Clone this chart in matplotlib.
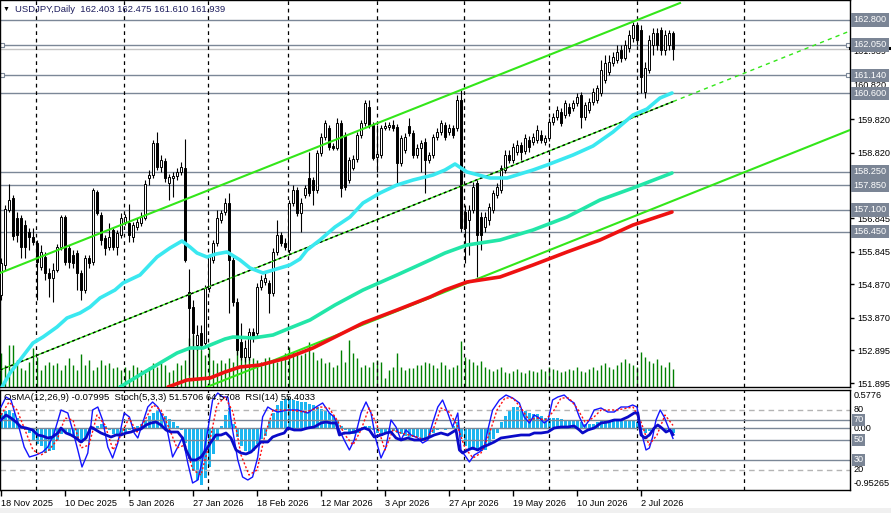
import numpy as np
import matplotlib.pyplot as plt
from matplotlib.transforms import blended_transform_factory

plt.rcParams['font.family'] = ['Liberation Sans', 'DejaVu Sans']

# ---------------- data ----------------
opens = [154.55, 155.45, 157.10, 157.46, 156.86, 156.86, 156.65, 156.44, 156.29, 156.11,
         155.39, 155.69, 155.21, 155.06, 155.30, 155.99, 156.89, 155.96, 155.75, 155.81,
         155.21, 154.70, 155.66, 155.54, 157.64, 156.95, 156.26, 155.99, 156.50, 155.99,
         156.35, 156.74, 156.71, 156.29, 156.59, 156.71, 156.86, 158.06, 158.15, 159.11,
         158.39, 158.57, 157.91, 158.06, 158.12, 158.24, 158.36, 154.64, 154.19, 153.05,
         153.41, 153.11, 154.76, 155.60, 156.11, 156.80, 157.04, 157.31, 155.60, 154.34,
         153.14, 152.69, 152.69, 153.44, 153.41, 154.79, 154.94, 154.91, 154.61, 155.84,
         156.35, 156.11, 155.90, 157.31, 157.70, 157.01, 157.55, 158.06, 157.99, 157.70,
         158.81, 159.29, 159.56, 159.02, 158.96, 159.71, 159.35, 158.00, 158.36, 158.63,
         159.35, 159.71, 160.19, 159.65, 158.69, 158.75, 159.56, 159.59, 159.65, 159.59,
         158.51, 158.90, 159.62, 159.41, 158.75, 158.96, 159.14, 158.60, 158.75, 159.29,
         159.44, 159.65, 159.44, 159.56, 159.56, 160.40, 157.04, 156.80, 157.10, 157.91,
         156.89, 156.59, 156.80, 157.10, 157.55, 157.70, 158.30, 158.75, 158.60, 158.84,
         159.05, 158.87, 159.20, 159.14, 159.20, 159.35, 159.14, 159.26, 159.74, 159.89,
         160.04, 159.95, 160.19, 160.16, 160.31, 160.55, 159.89, 160.10, 160.34, 160.40,
         160.61, 161.00, 161.24, 161.51, 161.60, 161.90, 161.66, 161.96, 162.26, 162.65,
         162.50, 160.64, 161.30, 162.05, 162.41, 162.50, 161.90, 162.05, 162.403]
highs = [155.66, 157.25, 157.88, 157.55, 157.04, 156.95, 156.80, 156.56, 156.56, 156.20,
         156.05, 155.84, 155.36, 155.51, 156.08, 156.95, 156.95, 156.05, 155.90, 155.90,
         155.30, 155.75, 155.75, 157.76, 157.70, 157.04, 156.35, 156.71, 156.56, 156.50,
         157.01, 156.98, 157.28, 156.74, 156.86, 157.04, 158.00, 158.30, 159.20, 159.44,
         158.75, 158.66, 158.18, 158.24, 158.36, 158.54, 159.23, 155.33, 154.40, 153.65,
         153.65, 154.85, 155.75, 156.20, 157.10, 157.10, 157.46, 157.61, 155.75, 154.46,
         153.71, 153.20, 153.56, 153.56, 154.91, 155.15, 155.24, 155.00, 155.96, 156.80,
         156.44, 156.26, 157.40, 157.85, 157.79, 157.46, 157.85, 158.84, 158.09, 158.90,
         159.41, 159.80, 159.65, 159.11, 159.86, 159.80, 159.44, 158.69, 158.75, 159.44,
         159.80, 160.40, 160.40, 159.74, 159.65, 159.65, 159.74, 159.74, 159.80, 159.68,
         159.35, 159.41, 159.86, 159.50, 159.08, 159.20, 159.26, 158.84, 159.38, 159.56,
         159.80, 159.74, 159.68, 159.65, 160.55, 160.70, 157.25, 157.25, 157.94, 158.00,
         157.04, 157.04, 157.31, 157.70, 157.91, 158.45, 158.90, 158.90, 159.11, 159.20,
         159.14, 159.38, 159.32, 159.41, 159.65, 159.50, 159.35, 159.86, 160.01, 160.22,
         160.16, 160.40, 160.31, 160.40, 160.61, 160.64, 160.34, 160.46, 160.76, 160.85,
         161.60, 161.75, 161.75, 161.84, 162.05, 162.05, 162.20, 162.50, 162.74, 162.74,
         162.65, 161.54, 162.35, 162.56, 162.56, 162.59, 162.50, 162.50, 162.475]
lows = [154.40, 155.30, 157.04, 156.20, 156.14, 155.66, 155.66, 155.90, 156.05, 154.40,
        155.30, 155.00, 154.49, 154.34, 155.24, 155.90, 155.45, 155.36, 155.36, 154.70,
        154.40, 154.61, 155.36, 155.45, 156.95, 156.05, 155.75, 155.90, 155.90, 155.75,
        156.26, 156.65, 156.14, 156.14, 156.50, 156.62, 156.80, 157.85, 158.06, 158.30,
        158.24, 157.94, 157.40, 157.49, 158.00, 158.15, 155.54, 152.15, 152.06, 152.90,
        152.90, 152.99, 154.64, 155.51, 156.02, 156.71, 156.95, 154.01, 154.22, 152.75,
        152.60, 152.54, 152.60, 153.14, 153.32, 154.70, 154.85, 154.01, 154.52, 155.75,
        156.02, 155.90, 155.81, 157.22, 156.92, 156.44, 157.46, 157.52, 157.25, 157.60,
        158.72, 159.20, 158.90, 158.90, 158.90, 157.49, 157.70, 157.91, 158.30, 158.54,
        159.26, 159.62, 159.56, 158.60, 158.24, 158.66, 159.50, 159.50, 159.47, 157.91,
        158.42, 158.81, 159.32, 158.66, 158.66, 158.24, 157.61, 158.51, 158.66, 159.20,
        159.35, 159.20, 159.35, 159.26, 159.47, 156.44, 155.51, 155.75, 157.01, 155.09,
        155.90, 156.44, 156.65, 157.01, 157.46, 157.61, 158.21, 158.51, 158.51, 158.75,
        158.60, 158.78, 158.84, 159.05, 159.11, 159.11, 159.05, 159.17, 159.65, 159.80,
        159.62, 159.86, 159.92, 160.07, 160.22, 159.56, 159.80, 160.01, 160.25, 160.31,
        160.52, 160.91, 161.15, 161.42, 161.51, 161.54, 161.60, 161.84, 162.14, 162.05,
        160.61, 160.46, 161.21, 161.75, 161.90, 161.75, 161.75, 161.90, 161.610]
closes = [155.51, 157.13, 157.40, 156.32, 156.35, 155.99, 155.99, 156.29, 156.14, 155.54,
          155.84, 155.21, 155.06, 155.30, 155.99, 156.89, 155.54, 155.54, 155.51, 155.21,
          154.70, 155.66, 155.51, 157.70, 157.01, 156.20, 155.96, 156.29, 155.99, 156.41,
          156.86, 156.89, 156.35, 156.65, 156.74, 156.89, 157.88, 158.15, 159.11, 158.39,
          158.60, 158.06, 158.09, 158.12, 158.24, 158.39, 155.60, 154.16, 153.41, 153.35,
          153.05, 154.76, 155.69, 156.11, 156.86, 157.01, 157.31, 155.60, 154.34, 152.90,
          152.69, 152.96, 153.44, 153.26, 154.79, 155.00, 155.06, 154.61, 155.84, 156.35,
          156.11, 155.99, 157.31, 157.70, 157.01, 157.31, 157.76, 157.61, 157.70, 158.81,
          159.29, 159.71, 158.99, 158.96, 159.71, 157.76, 157.79, 158.60, 158.63, 159.35,
          159.71, 160.31, 159.65, 158.66, 158.78, 159.56, 159.62, 159.65, 159.56, 158.51,
          159.26, 159.29, 159.41, 158.75, 158.96, 159.11, 158.60, 158.75, 159.29, 159.44,
          159.71, 159.29, 159.56, 159.35, 160.40, 156.56, 156.56, 157.10, 157.79, 156.35,
          156.35, 156.89, 157.19, 157.61, 157.79, 158.36, 158.75, 158.60, 158.99, 159.05,
          158.84, 159.26, 158.99, 159.29, 159.50, 159.20, 159.26, 159.74, 159.89, 160.10,
          159.71, 160.31, 160.01, 160.31, 160.49, 159.89, 160.25, 160.34, 160.64, 160.76,
          161.30, 161.51, 161.54, 161.69, 161.84, 161.66, 162.05, 162.35, 162.65, 162.20,
          161.09, 161.36, 162.20, 162.41, 162.05, 161.90, 162.35, 162.41, 161.939]
volumes = [34, 22, 42, 42, 27, 19, 17, 25, 39, 30,
           17, 22, 25, 22, 24, 17, 22, 29, 22, 17,
           33, 22, 27, 17, 20, 27, 22, 24, 19, 20,
           17, 20, 17, 22, 20, 17, 14, 20, 24, 20,
           24, 22, 15, 17, 24, 22, 27, 49, 52, 45,
           37, 32, 39, 27, 24, 27, 24, 29, 25, 40,
           42, 30, 34, 29, 27, 25, 29, 30, 27, 25,
           30, 34, 40, 35, 35, 32, 34, 45, 35, 27,
           29, 24, 25, 20, 22, 37, 25, 47, 34, 29,
           20, 22, 20, 25, 27, 25, 9, 17, 20, 34,
           20, 17, 19, 19, 22, 22, 25, 24, 22, 19,
           25, 22, 18, 20, 22, 46, 30, 28, 25, 22,
           26, 20, 18, 16, 18, 20, 15, 14, 16, 18,
           15, 14, 17, 16, 15, 18, 16, 20, 18, 17,
           15, 16, 18, 17, 20, 16, 15, 18, 20, 17,
           22, 24, 20, 18, 22, 25, 28, 24, 22, 20,
           35, 30, 26, 24, 28, 22, 20, 25, 18]
osma = [0.23, 0.26, 0.27, 0.23, 0.15, 0.03, -0.03, -0.08, -0.21, -0.26,
        -0.28, -0.39, -0.36, -0.34, -0.21, -0.10, -0.08, -0.10, -0.15, -0.21,
        -0.23, -0.18, -0.10, -0.03, 0.03, 0.05, 0.03, -0.03, -0.10, -0.13,
        -0.10, -0.08, -0.03, 0.01, 0.03, 0.05, 0.10, 0.18, 0.23, 0.26,
        0.23, 0.18, 0.13, 0.08, 0.03, -0.03, -0.23, -0.49, -0.67, -0.80,
        -0.88, -0.78, -0.60, -0.40, -0.20, 0.02, 0.20, 0.30, 0.05, -0.15,
        -0.28, -0.36, -0.39, -0.36, -0.26, -0.18, -0.13, 0.10, 0.23, 0.34,
        0.41, 0.44, 0.44, 0.43, 0.41, 0.39, 0.39, 0.36, 0.34, 0.31,
        0.28, 0.26, 0.23, 0.18, 0.10, 0.03, -0.03, -0.08, -0.10, -0.08,
        -0.03, 0.03, 0.03, -0.03, -0.08, -0.13, -0.10, -0.08, -0.05, -0.08,
        -0.10, -0.13, -0.15, -0.14, -0.15, -0.17, -0.18, -0.15, -0.08, -0.03,
        -0.01, -0.03, -0.02, 0.03, 0.08, -0.15, -0.28, -0.34, -0.34, -0.36,
        -0.36, -0.34, -0.26, -0.18, -0.08, 0.08, 0.18, 0.26, 0.31, 0.31,
        0.28, 0.26, 0.23, 0.21, 0.21, 0.18, 0.15, 0.14, 0.14, 0.14,
        0.13, 0.12, 0.10, 0.10, 0.10, 0.08, 0.05, 0.05, 0.05, 0.08,
        0.10, 0.10, 0.12, 0.13, 0.13, 0.12, 0.10, 0.10, 0.10, 0.09,
        -0.03, -0.08, -0.05, -0.03, 0.00, -0.02, -0.03, -0.05, -0.07995]

# moving averages (bar, price)
ma_fast_bar = [0.25, 2.25, 4.75, 8, 10.5, 14, 16.5, 19.75, 22.25, 24.75, 28.5, 30.5, 34.75, 39,
               42.25, 45.25, 47.25, 49, 51.5, 53.75, 56.5, 59.75, 62.25, 65.5, 69.75, 72.25,
               74.75, 76.5, 79.75, 83.5, 87.25, 90.5, 94.75, 99, 103, 108, 111, 113.5, 116.5,
               122.25, 126.5, 133, 136.5, 143, 148, 153, 158, 161.5, 164.75, 167.75]
ma_fast = [151.79, 152.21, 152.60, 153.11, 153.29, 153.59, 153.86, 154.01, 154.19, 154.46,
           154.70, 154.91, 155.15, 155.69, 155.96, 156.17, 155.99, 155.81, 155.69, 155.78,
           155.84, 155.60, 155.36, 155.21, 155.36, 155.45, 155.63, 155.90, 156.20, 156.59,
           156.89, 157.31, 157.61, 157.85, 158.00, 158.15, 158.30, 158.48, 158.24, 158.06,
           158.06, 158.30, 158.45, 158.75, 159.02, 159.44, 159.95, 160.13, 160.46, 160.61]
ma_mid_bar = [29.75, 35.5, 39.75, 44, 47.25, 50.5, 56, 58, 63, 68, 72.25, 77.25, 83.5, 90.5,
              99, 107.25, 111, 116.5, 124.75, 133, 141.5, 149.75, 158, 167.75]
ma_mid = [151.79, 152.21, 152.51, 152.81, 152.96, 152.96, 153.23, 153.29, 153.26, 153.35,
          153.56, 153.80, 154.25, 154.70, 155.15, 155.60, 155.81, 156.05, 156.20, 156.50,
          156.89, 157.40, 157.76, 158.21]
ma_slow_bar = [41.75, 46.5, 52.25, 56, 59.75, 64.75, 71.5, 78, 83.5, 90.5, 99, 107.25, 111,
               116.5, 124.75, 133, 141.5, 149.75, 158, 167.75]
ma_slow = [151.79, 152.00, 152.06, 152.24, 152.39, 152.45, 152.66, 152.96, 153.29, 153.71,
           154.10, 154.49, 154.70, 154.94, 155.09, 155.45, 155.84, 156.20, 156.65, 157.04]

# trend lines (bar, price) anchors
upper_channel = ([-0.25, 169.75], [155.21, 163.31])
lower_channel = ([51.5, 212.25], [151.79, 159.50])
mid_trend = ([-0.25, 212.25], [152.30, 162.47])

levels = [162.80, 162.05, 161.14, 160.60, 158.25, 157.85, 157.10, 156.45]
marked_levels = [162.05, 161.14]
bid = 161.939
axis_ticks = [159.82, 158.82, 156.845, 155.845, 154.87, 153.87, 152.895, 151.895]

stoch_bar = [0, 1.25, 2.5, 4.2, 5.8, 7.1, 8.75, 10.4, 11.7, 13.3, 15, 16.7, 17.9, 19.2, 20.25,
             21.7, 22.9, 24.2, 25.4, 26.7, 27.9, 29.2, 30.8, 32.1, 33.3, 34.2, 35.4, 36.7, 37.9,
             39.2, 40.4, 41.7, 42.9, 44.2, 45.4, 46.7, 47.9, 49.2, 50.4, 51.7, 52.9, 54.2, 55.4,
             56.7, 57.9, 59.2, 60.4, 61.7, 62.9, 64.2, 65.4, 66.7, 67.9, 69.2, 71.7, 74.2, 76.7,
             78.75, 80.4, 82.1, 83.3, 84.6, 85.8, 87.1, 88.3, 90, 91.25, 92.5, 93.75, 95, 96.25,
             97.5, 98.75, 100, 101.25, 102.5, 104.2, 105.4, 106.7, 107.9, 109.2, 110.4, 111.7,
             112.9, 114.2, 115, 116.25, 117.1, 118.3, 119.6, 120.8, 121.7, 122.9, 124.6, 126.25,
             127.9, 129.6, 130.8, 132.1, 133.3, 134.6, 135.8, 136.8, 137.9, 139.2, 140.8, 142.1,
             143.3, 144.6, 145.8, 147.1, 148.3, 150, 151.7, 153.3, 155, 156.7, 157.9, 159, 159.6,
             160.4, 161.25, 162.1, 162.9, 163.75, 164.8, 165.8, 166.8, 168]
stoch_main = [83, 93, 90, 67, 43, 33, 35, 38, 43, 57, 80, 77, 60, 40, 23,
              37, 80, 83, 70, 43, 32, 47, 77, 73, 57, 52, 67, 83, 88,
              83, 73, 57, 33, 43, 53, 27, 7, 10, 30, 60, 90, 97, 93,
              93, 60, 30, 13, 10, 13, 33, 73, 83, 80, 78, 80, 80, 77,
              83, 87, 77, 73, 60, 50, 40, 50, 77, 88, 77, 50, 32, 43,
              70, 63, 50, 60, 55, 52, 47, 50, 67, 83, 90, 77,
              63, 77, 40, 33, 28, 35, 38, 42, 60, 80, 90, 95,
              92, 87, 73, 67, 75, 72, 67, 70, 90, 93, 95, 90,
              87, 73, 63, 70, 80, 82, 78, 78, 83, 83, 85, 83, 70,
              53, 40, 42, 53, 70, 80, 73, 63, 51.57]
signal_bar = [0, 2, 4, 6, 8, 10, 12, 14, 16, 18, 20, 22, 24, 26, 28, 30, 32, 34, 36, 38, 40,
              42, 44, 46, 48, 50, 52, 54, 56, 58, 60, 62, 64, 66, 68, 70, 72, 76, 80, 82, 84,
              86, 88, 90, 92, 94, 96, 98, 100, 102, 104, 106, 108, 110, 112, 114, 116, 118,
              120, 122, 124, 126, 128, 130, 132, 134, 136, 138, 140, 142, 144, 146, 148, 150,
              154, 158, 160, 162, 164, 166, 168]
stoch_signal = [75, 88, 80, 60, 40, 35, 40, 50, 72, 70, 42, 45, 75, 65, 40, 55, 72, 58, 70, 85,
                80, 62, 42, 45, 20, 15, 45, 85, 93, 78, 35, 15, 20, 55, 80, 80, 80, 78, 83,
                82, 70, 55, 45, 60, 82, 65, 40, 60, 57, 55, 53, 50, 60, 82, 78, 65, 42, 32,
                37, 55, 80, 92, 92, 82, 70, 72, 70, 78, 92, 92, 82, 68, 72, 80, 80, 83, 68,
                45, 55, 75, 64.57]
rsi_bar = [0, 1.25, 2.5, 3.75, 5, 6.25, 7.9, 9.2, 10.4, 11.7, 12.9, 14.2, 15, 16.25, 17.5,
           18.75, 20, 21.25, 22.5, 23.75, 25, 26.25, 27.5, 28.75, 30, 31.25, 32.5, 33.75, 35,
           36.25, 37.5, 38.75, 40, 41.25, 42.5, 44.2, 45.4, 46.25, 47.5, 48.75, 50, 51.25,
           52.5, 53.75, 55, 56.25, 57.5, 58.75, 60, 61.25, 62.5, 63.75, 65, 66.7, 67.9, 69.2,
           70.8, 71.7, 73.3, 75, 76.7, 78.3, 80, 81.25, 82.5, 83.75, 84.6, 85.8, 87.1, 88.3,
           89.6, 90.8, 92.1, 93.3, 95, 96.25, 97.5, 98.75, 100, 101.7, 103.3, 105, 106.7,
           108.3, 110, 111.7, 113.75, 114.6, 115.4, 116.7, 117.9, 119.2, 120.4, 121.7, 123.3,
           125, 126.7, 128.3, 130, 132.1, 133.3, 135, 136.7, 138.3, 140, 141.7, 143.3, 144.6,
           145.4, 146.7, 148.3, 150, 151.7, 153.3, 155, 156.7, 158.3, 159.2, 160, 161, 162.1,
           163.3, 164.2, 165.2, 166.25, 167.3, 168]
rsi = [70, 75, 72, 68, 63, 62, 60, 55, 54, 52, 53, 57, 62, 57, 55,
       52, 48, 52, 63, 60, 57, 55, 53, 55, 55, 57, 58, 60, 61,
       65, 67, 68, 65, 60, 58, 58, 52, 40, 30, 30, 33, 40,
       48, 55, 55, 57, 52, 40, 37, 36, 38, 43, 48, 48, 53, 55,
       57, 62, 60, 60, 62, 63, 67, 68, 67, 67, 55, 57, 57, 58,
       60, 62, 60, 53, 55, 57, 58, 52, 50, 52, 50, 50, 52,
       55, 57, 55, 60, 40, 37, 40, 42, 40, 43, 45, 48,
       52, 53, 54, 55, 55, 57, 57, 58, 62, 63, 63, 64, 60,
       57, 60, 62, 67, 68, 70, 70, 73, 77, 77, 55, 52, 55,
       62, 65, 62, 58, 60, 55.4033]

date_bars = [0, 16, 32, 48, 64, 80, 96, 112, 128, 144, 160]
date_labels = ['18 Nov 2025', '10 Dec 2025', '5 Jan 2026', '27 Jan 2026', '18 Feb 2026',
               '12 Mar 2026', '3 Apr 2026', '27 Apr 2026', '19 May 2026', '10 Jun 2026',
               '2 Jul 2026']
month_lines = [8.75, 30.75, 51.75, 71.75, 94, 115.75, 137, 159, 185.75]

# ---------------- figure ----------------
W, H = 891, 513
fig = plt.figure(figsize=(W / 100, H / 100), dpi=100)
fig.patch.set_facecolor('white')
fs = 6.6
lvl_col = '#7b8797'
box_col = '#7b8595'
green = '#33e619'

ax = fig.add_axes([0, 1 - 387 / H, 850 / W, 387 / H])
axv = ax.twinx()
ax.set_zorder(2)
ax.patch.set_visible(False)
axv.set_zorder(1)

x = np.arange(len(closes))
o = np.array(opens); c = np.array(closes); hi = np.array(highs); lo = np.array(lows)
up = c >= o

axv.vlines(x, 0, volumes, color='#008000', lw=1)
axv.set_ylim(0, 387)
axv.axis('off')

for lv in levels:
    ax.axhline(lv, color=lvl_col, lw=1, zorder=1)
ax.axhline(bid, color='#c4c4c4', lw=1, zorder=1)
for lv in marked_levels:
    ax.plot([0.25, 211.75], [lv, lv], 's', ms=3, mfc='white', mec=lvl_col, mew=0.8, zorder=2)

for b in month_lines:
    ax.axvline(b, color='black', lw=0.9, ls=(0, (3, 3)), zorder=1)

# trend lines
ax.plot(*upper_channel, color=green, lw=1.5, zorder=5)
ax.plot(*lower_channel, color=green, lw=1.5, zorder=5)
(tx0, tx1), (ty0, ty1) = mid_trend
last = len(closes) - 1
ty_last = ty0 + (ty1 - ty0) * (last - tx0) / (tx1 - tx0)
ax.plot([tx0, last], [ty0, ty_last], color=green, lw=1, zorder=5)
ax.plot([tx0, last], [ty0, ty_last], color='black', lw=1, ls=(0, (2, 2)), zorder=5)
ax.plot([last, tx1], [ty_last, ty1], color=green, lw=1, ls=(0, (3, 3)), zorder=5)

# candles
ax.vlines(x, lo, hi, color='black', lw=0.8, zorder=3)
ax.bar(x[up], c[up] - o[up], bottom=o[up], width=0.7, facecolor='white',
       edgecolor='black', linewidth=0.7, zorder=4)
ax.bar(x[~up], o[~up] - c[~up], bottom=c[~up], width=0.7, facecolor='black',
       edgecolor='black', linewidth=0.7, zorder=4)

# moving averages
ax.plot(ma_fast_bar, ma_fast, color='#3ae8f0', lw=2.6, zorder=6, solid_capstyle='round')
ax.plot(ma_mid_bar, ma_mid, color='#22e6a8', lw=2.6, zorder=6, solid_capstyle='round')
ax.plot(ma_slow_bar, ma_slow, color='#ee1111', lw=2.6, zorder=6, solid_capstyle='round')

ax.set_xlim(-0.25, 212.25)
ax.set_ylim(151.79, 163.40)
ax.set_xticks([])
ax.yaxis.tick_right()
ax.set_yticks(axis_ticks)
ax.set_yticklabels([f'{t:.3f}' for t in axis_ticks])
ax.tick_params(axis='y', length=3, width=1, pad=2, labelsize=fs, colors='black')
for s in ax.spines.values():
    s.set_color('black')
    s.set_linewidth(1)

trans = blended_transform_factory(ax.transAxes, ax.transData)
# partly hidden axis labels, as in the terminal
ax.text(1.004, 161.84, f'{bid:.3f}', transform=trans, va='center', ha='left',
        fontsize=fs, color='black', zorder=9, clip_on=False)
ax.plot([1.0, 1.05], [161.965, 161.965], transform=trans, color='black', lw=2.2,
        clip_on=False, zorder=9)
ax.text(1.004, 160.84, '160.820', transform=trans, va='center', ha='left',
        fontsize=fs, color='black', zorder=9, clip_on=False)
for lv in levels:
    ax.text(1.004, lv, f'{lv:.3f}', transform=trans, va='center', ha='left', fontsize=fs,
            color='white', zorder=10, clip_on=False,
            bbox=dict(boxstyle='square,pad=0.25', fc=box_col, ec='none'))

fig.text(3 / W, 1 - 9 / H, '\u25bc', fontsize=5, color='black', va='center')
fig.text(15 / W, 1 - 9 / H, 'USDJPY,Daily  162.403 162.475 161.610 161.939',
         fontsize=6.8, color='#1e1e5e', va='center')

# ---------------- indicator panel ----------------
axi = fig.add_axes([0, 1 - 489.5 / H, 850 / W, 99.5 / H])
axo = axi.twinx()
axi.set_zorder(2)
axi.patch.set_visible(False)
axo.set_zorder(1)

axo.bar(x, osma, width=0.75, color='#1cb6f0', zorder=2)
axo.set_ylim(-0.95265, 0.5776)
axo.axis('off')

for b in month_lines:
    axi.axvline(b, color='black', lw=0.9, ls=(0, (3, 3)), zorder=1)
for lv in (80, 20):
    axi.axhline(lv, color='#b4b4b4', lw=1, ls=(0, (4, 3)), zorder=1)
for lv in (70, 50, 30):
    axi.axhline(lv, color=lvl_col, lw=1, zorder=1)
axi.axhline(61.9, color=lvl_col, lw=1, zorder=1)

axi.plot(stoch_bar, stoch_main, color='#1414ff', lw=1, zorder=4)
axi.plot(signal_bar, stoch_signal, color='#ff1010', lw=1, ls=(0, (1.5, 1.5)), zorder=4)
axi.plot(rsi_bar, rsi, color='#0a0ac8', lw=2, zorder=5)

axi.set_xlim(-0.25, 212.25)
axi.set_ylim(0.5, 100)
axi.set_yticks([])
axi.set_xticks(date_bars)
axi.set_xticklabels(date_labels)
axi.tick_params(axis='x', length=4, width=1, pad=3, labelsize=fs, colors='black')
for lbl in axi.get_xticklabels():
    lbl.set_ha('left')
for s in axi.spines.values():
    s.set_color('black')
    s.set_linewidth(1)

ti = blended_transform_factory(axi.transAxes, axi.transData)
axi.text(1.004, 94, '0.5776', transform=ti, va='center', ha='left', fontsize=fs, clip_on=False)
axi.text(1.004, 80, '80', transform=ti, va='center', ha='left', fontsize=fs, clip_on=False)
axi.text(1.004, 61.5, '0.00', transform=ti, va='center', ha='left', fontsize=fs, clip_on=False)
axi.text(1.004, 20, '20', transform=ti, va='center', ha='left', fontsize=fs, clip_on=False)
axi.text(1.004, 6, '-0.95265', transform=ti, va='center', ha='left', fontsize=fs, clip_on=False)
for lv in (70, 50, 30):
    axi.text(1.004, lv, str(lv), transform=ti, va='center', ha='left', fontsize=fs,
             color='white', clip_on=False, zorder=10,
             bbox=dict(boxstyle='square,pad=0.2', fc=box_col, ec='none'))
axi.text(0.005, 92, 'OsMA(12,26,9) -0.07995  Stoch(5,3,3) 51.5706 64.5708  RSI(14) 55.4033',
         transform=ti, va='center', ha='left', fontsize=6.8, color='black', zorder=10)

fig.patches.append(plt.Rectangle((0, 0), 1, 5 / H, transform=fig.transFigure,
                                 facecolor='#f0f0f0', edgecolor='none'))

fig.savefig('out.png', dpi=100)
